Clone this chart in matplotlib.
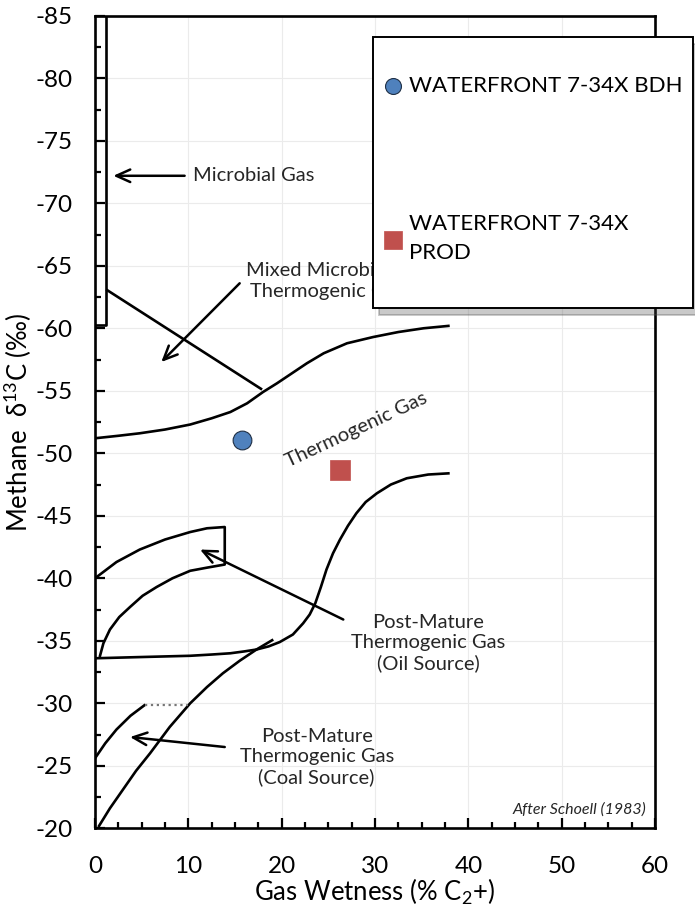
import matplotlib
matplotlib.use("Agg")
import matplotlib.pyplot as plt
from matplotlib.patches import Rectangle, Shadow
from matplotlib.ticker import MultipleLocator

plt.rcParams['font.family'] = ['Lato', 'DejaVu Sans']
plt.rcParams['axes.unicode_minus'] = False
plt.rcParams['mathtext.fontset'] = 'custom'
plt.rcParams['mathtext.rm'] = 'Lato'
plt.rcParams['mathtext.default'] = 'regular'

# --- samples ---
bdh_x, bdh_y = [15.7], [-51.1]
prod_x, prod_y = [26.2], [-48.7]
bdh_label = "WATERFRONT 7-34X BDH"
prod_label = "WATERFRONT 7-34X\nPROD"

# --- Schoell (1983) field boundaries ---
microbial_x = [1.15, 1.15, 0.0]
microbial_y = [-85.0, -60.3, -60.3]

mixed_x = [1.2, 17.9]
mixed_y = [-63.1, -55.1]

thermo_top_x = [0, 2.5, 4.8, 7.5, 10.2, 12.5, 14.5, 16.3, 18.0, 19.5, 20.9,
                22.7, 24.5, 27.0, 29.8, 32.5, 35.2, 38.0]
thermo_top_y = [-51.2, -51.4, -51.6, -51.9, -52.3, -52.8, -53.3, -54.0, -54.9, -55.6, -56.3,
                -57.2, -58.0, -58.8, -59.3, -59.7, -60.0, -60.2]

oil_s_x = [0, 5.0, 10.2, 12.5, 14.5, 16.0, 17.3, 18.6, 19.8, 21.2, 22.3, 23.0, 23.6, 24.2, 24.8,
           25.5, 26.25, 27.1, 28.0, 29.0, 30.2, 31.7, 33.4, 35.7, 38.0]
oil_s_y = [-33.6, -33.7, -33.8, -33.9, -34.0, -34.15, -34.3, -34.55, -34.9, -35.5, -36.4, -37.1,
           -38.0, -39.3, -40.7, -42.0, -43.1, -44.2, -45.2, -46.1, -46.8, -47.5, -48.0, -48.3, -48.4]

oil_box_x = [0, 2.3, 4.8, 7.5, 10.2, 12.0, 13.9, 13.9, 12.0, 10.2, 8.3, 6.6, 5.1, 3.75,
             2.6, 1.6, 0.9, 0.5]
oil_box_y = [-40.0, -41.3, -42.3, -43.1, -43.7, -44.0, -44.1, -41.1, -40.85, -40.6, -40.0, -39.3,
             -38.6, -37.7, -36.9, -35.9, -34.8, -33.7]

coal_x = [0.36, 1.6, 3.0, 4.4, 5.9, 8.0, 10.2, 12.0, 13.7, 15.5, 17.3, 19.1]
coal_y = [-20.1, -21.6, -23.1, -24.6, -26.0, -28.1, -30.0, -31.3, -32.4, -33.4, -34.3, -35.1]

coal_top_x = [0, 1.1, 2.3, 3.8, 5.4]
coal_top_y = [-25.6, -26.8, -27.9, -29.0, -29.9]
coal_flat_x = [5.4, 10.0]
coal_flat_y = [-29.9, -29.9]

fig = plt.figure(figsize=(6.95, 9.07), dpi=100)
ax = fig.add_axes([0.1367, 0.0868, 0.8058, 0.8958])

for xs, ys in [(microbial_x, microbial_y), (mixed_x, mixed_y),
               (thermo_top_x, thermo_top_y), (oil_s_x, oil_s_y),
               (oil_box_x, oil_box_y), (coal_x, coal_y), (coal_top_x, coal_top_y)]:
    ax.plot(xs, ys, color='black', lw=1.9, solid_capstyle='butt', zorder=3)
ax.plot(coal_flat_x, coal_flat_y, color='#777777', lw=1.6, ls=':', zorder=3)

bdh = ax.scatter(bdh_x, bdh_y, s=13.5**2, marker='o', color='#4F81BD',
                 edgecolors='#1F2F45', linewidths=0.8, zorder=5)
prod = ax.scatter(prod_x, prod_y, s=14.5**2, marker='s', color='#C0504D',
                  edgecolors='#C0504D', linewidths=0.5, zorder=5)

# --- annotations ---
arrow = dict(arrowstyle='->, head_length=1.0, head_width=0.45', color='black', lw=1.8,
             shrinkA=0, shrinkB=0)
txt_kw = dict(fontsize=14.5, color='#262626')

ax.annotate('', xy=(1.96, -72.2), xytext=(9.6, -72.2), arrowprops=arrow)
ax.text(10.5, -72.2, 'Microbial Gas', ha='left', va='center', **txt_kw)

ax.annotate('', xy=(7.1, -57.3), xytext=(15.5, -63.6), arrowprops=arrow)
ax.text(24.9, -63.8, 'Mixed Microbial &\nThermogenic Gas', ha='center', va='center',
        linespacing=1.3, **txt_kw)

ax.text(28.0, -51.9, 'Thermogenic Gas', rotation=25, ha='center', va='center',
        rotation_mode='anchor', **txt_kw)

ax.annotate('', xy=(11.25, -42.3), xytext=(26.6, -36.7), arrowprops=arrow)
ax.text(35.7, -34.8, 'Post-Mature\nThermogenic Gas\n(Oil Source)', ha='center', va='center',
        linespacing=1.22, **txt_kw)

ax.annotate('', xy=(3.75, -27.3), xytext=(13.9, -26.5), arrowprops=arrow)
ax.text(23.75, -25.7, 'Post-Mature\nThermogenic Gas\n(Coal Source)', ha='center', va='center',
        linespacing=1.22, **txt_kw)

ax.text(59.1, -21.5, 'After Schoell (1983)', ha='right', va='center', fontsize=11.5,
        style='italic', color='#262626')

# --- axes ---
ax.set_xlim(0, 60)
ax.set_ylim(-20, -85)
ax.xaxis.set_major_locator(MultipleLocator(10))
ax.xaxis.set_minor_locator(MultipleLocator(2.5))
ax.yaxis.set_major_locator(MultipleLocator(5))
ax.yaxis.set_minor_locator(MultipleLocator(2.5))
ax.tick_params(which='both', direction='in', width=1.6, labelsize=17.5, colors='black')
ax.tick_params(which='major', length=7)
ax.tick_params(axis='x', which='major', pad=20)
ax.tick_params(axis='y', which='major', pad=16)
ax.tick_params(which='minor', length=4.5)
for sp in ax.spines.values():
    sp.set_linewidth(1.9)
ax.grid(True, which='major', color='#ebebeb', lw=0.8)
ax.set_axisbelow(True)

ax.set_xlabel('Gas Wetness (% C$_2$+)', fontsize=18.5, labelpad=0)
ax.set_ylabel('Methane  δ$^{13}$C (‰)', fontsize=18.5, labelpad=1)

# --- legend with boxed frame ---
fw, fh = 695.0, 907.0
box = Rectangle((373 / fw, 1 - 308 / fh), 320 / fw, 271 / fh, transform=fig.transFigure,
                facecolor='white', edgecolor='black', lw=1.4, zorder=3)
shadow = Shadow(box, 4 / fw, -5 / fh, alpha=0.3, zorder=2.9)
fig.add_artist(shadow)
fig.add_artist(box)
leg = fig.legend([bdh, prod], [bdh_label, prod_label], loc='upper left',
                 bbox_to_anchor=(383 / fw, 1 - 76 / fh), frameon=False, fontsize=16,
                 labelspacing=5.3, handletextpad=0.25, handlelength=0.9,
                 borderpad=0, borderaxespad=0, markerscale=0.85)
leg.set_zorder(4)
leg.get_texts()[1].set_linespacing(1.55)

fig.savefig('out.png', dpi=100)
